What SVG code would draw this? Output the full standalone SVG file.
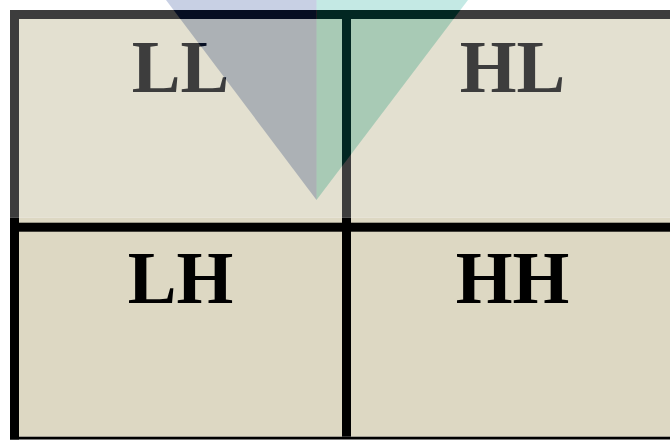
<svg xmlns="http://www.w3.org/2000/svg" width="670" height="440" viewBox="0 0 670 440">
  <style>
    .lbl { font-family: "Liberation Serif", "Times New Roman", serif; font-weight: bold; font-size: 73px; text-anchor: middle; }
    .top-fill { fill: #e3e0d0; }
    .bot-fill { fill: #ddd8c3; }
    .top-line { fill: #3d3d3d; }
    .bot-line { fill: #000000; }
    .top-txt { fill: #3d3d3d; }
    .bot-txt { fill: #000000; }
    .blend { mix-blend-mode: difference; }
  </style>
  <rect x="0" y="0" width="670" height="440" fill="#ffffff"/>

  <g id="cell-LL">
    <rect class="top-fill" x="19" y="19" width="323" height="198.7"/>
    <text class="lbl top-txt" x="180.5" y="91.5">LL</text>
  </g>
  <g id="cell-HL">
    <rect class="top-fill" x="351" y="19" width="330" height="198.7"/>
    <text class="lbl top-txt" x="512.5" y="91.5">HL</text>
  </g>
  <g id="cell-LH">
    <rect class="bot-fill" x="19" y="217.7" width="323" height="219"/>
    <text class="lbl bot-txt" x="180.5" y="302.5">LH</text>
  </g>
  <g id="cell-HH">
    <rect class="bot-fill" x="351" y="217.7" width="330" height="219"/>
    <text class="lbl bot-txt" x="512.5" y="302.5">HH</text>
  </g>

  <g id="grid-lines">
    <rect class="top-line" x="10" y="10" width="670" height="9"/>
    <rect class="top-line" x="10" y="10" width="9" height="207.7"/>
    <rect class="top-line" x="342" y="10" width="9" height="207.7"/>
    <rect class="bot-line" x="10" y="217.7" width="9" height="221.8"/>
    <rect class="bot-line" x="342" y="217.7" width="9" height="219"/>
    <rect class="bot-line" x="10" y="222.7" width="670" height="9"/>
    <rect class="bot-line" x="10" y="436.7" width="670" height="2.8"/>
  </g>

  <g id="overlay-triangle">
    <polygon class="blend" points="166,0 316.5,0 316.5,200" fill="#372f1b"/>
    <polygon class="blend" points="316.5,0 468,0 316.5,200" fill="#3b161b"/>
  </g>
</svg>
